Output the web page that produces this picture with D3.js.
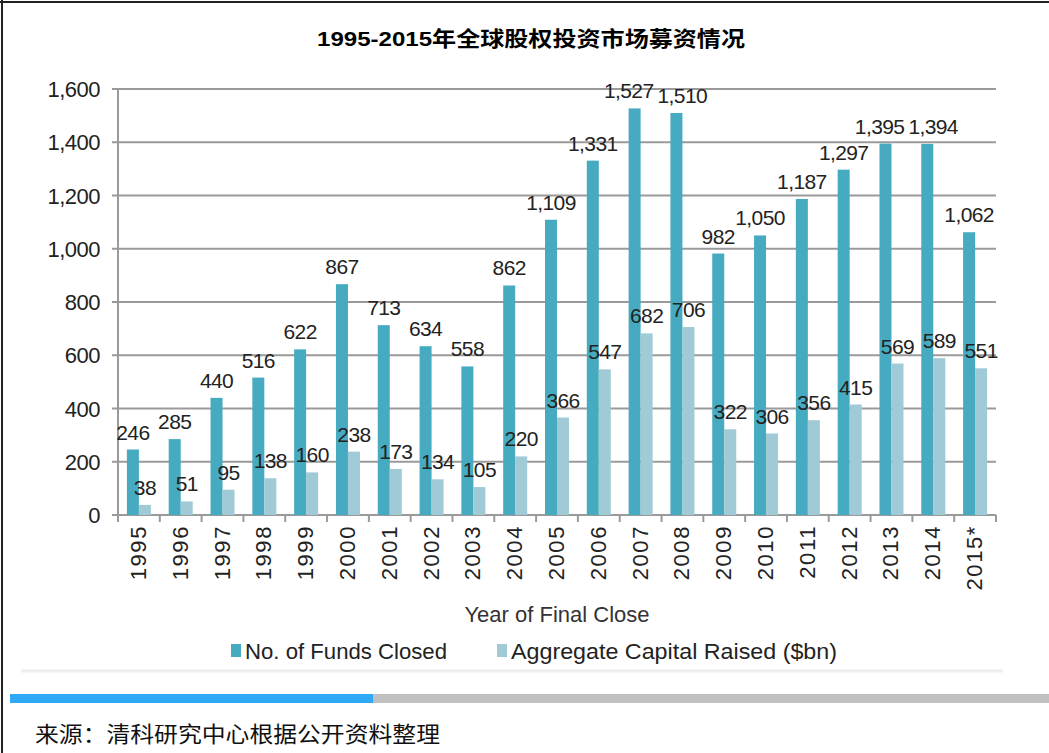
<!DOCTYPE html>
<html lang="zh">
<head>
  <meta charset="utf-8">
  <title>1995-2015年全球股权投资市场募资情况</title>
  <script src="https://d3js.org/d3.v7.min.js"></script>
  <style>
    body { margin: 0; padding: 0; background: #fff; }
    svg { display: block; }
    .num { font-family: "Liberation Sans", Arial, sans-serif; fill: #222; }
  </style>
</head>
<body>
  <svg id="chart" width="1049" height="753"></svg>
  <script>
    const years = ["1995", "1996", "1997", "1998", "1999", "2000", "2001", "2002", "2003", "2004", "2005",
                   "2006", "2007", "2008", "2009", "2010", "2011", "2012", "2013", "2014", "2015*"];
    const fundsClosed = [246, 285, 440, 516, 622, 867, 713, 634, 558, 862, 1109,
                         1331, 1527, 1510, 982, 1050, 1187, 1297, 1395, 1394, 1062];
    const capitalRaised = [38, 51, 95, 138, 160, 238, 173, 134, 105, 220, 366,
                           547, 682, 706, 322, 306, 356, 415, 569, 589, 551];
    const yTicks = [0, 200, 400, 600, 800, 1000, 1200, 1400, 1600];
    const seriesNames = ["No. of Funds Closed", "Aggregate Capital Raised ($bn)"];

    const W = 1049, H = 753;
    const plotLeft = 118, plotRight = 996, plotTop = 89, plotBottom = 515;
    const darkColor = "#46abc1", lightColor = "#9fcad6";

    const svg = d3.select("#chart");

    // page frame
    svg.append("line").attr("x1", 2).attr("x2", 2).attr("y1", 0).attr("y2", H)
      .attr("stroke", "#222").attr("stroke-width", 2);
    svg.append("line").attr("x1", 0).attr("x2", W).attr("y1", 2).attr("y2", 2)
      .attr("stroke", "#222").attr("stroke-width", 2);

    // title
    svg.append("text")
      .attr("x", 531).attr("y", 46)
      .attr("text-anchor", "middle")
      .attr("font-family", "'Liberation Sans', 'Noto Sans CJK SC', sans-serif")
      .attr("font-weight", "bold")
      .attr("font-size", 21)
      .attr("textLength", 428).attr("lengthAdjust", "spacingAndGlyphs")
      .text("1995-2015年全球股权投资市场募资情况");

    const x = d3.scaleBand().domain(years).range([plotLeft, plotRight]).padding(0);
    const y = d3.scaleLinear().domain([0, 1600]).range([plotBottom, plotTop]);
    const barW = 12;

    // gridlines
    svg.append("g")
      .selectAll("line")
      .data(yTicks)
      .join("line")
      .attr("x1", plotLeft - 6).attr("x2", plotRight)
      .attr("y1", d => y(d)).attr("y2", d => y(d))
      .attr("stroke", "#9a9a9a").attr("stroke-width", 2);

    // y labels
    svg.append("g")
      .selectAll("text")
      .data(yTicks)
      .join("text")
      .attr("class", "num")
      .attr("x", 100).attr("y", d => y(d) + 8)
      .attr("text-anchor", "end")
      .attr("font-size", 22)
      .attr("letter-spacing", -0.5)
      .text(d => d3.format(",")(d));

    // left axis line
    svg.append("line")
      .attr("x1", plotLeft).attr("x2", plotLeft).attr("y1", plotTop).attr("y2", plotBottom)
      .attr("stroke", "#9a9a9a").attr("stroke-width", 2);

    // bottom axis
    const xAxis = svg.append("g").attr("transform", `translate(0,${plotBottom})`);
    xAxis.append("line").attr("x1", plotLeft - 6).attr("x2", plotRight)
      .attr("stroke", "#9a9a9a").attr("stroke-width", 2);
    xAxis.selectAll("line.tick")
      .data(years.concat(["end"]))
      .join("line")
      .attr("class", "tick")
      .attr("x1", (d, i) => plotLeft + i * x.bandwidth())
      .attr("x2", (d, i) => plotLeft + i * x.bandwidth())
      .attr("y1", 0).attr("y2", 7)
      .attr("stroke", "#9a9a9a").attr("stroke-width", 2);
    xAxis.selectAll("text")
      .data(years)
      .join("text")
      .attr("class", "num")
      .attr("font-size", 22)
      .attr("letter-spacing", 1.6)
      .attr("text-anchor", "end")
      .attr("transform", d => `translate(${x(d) + x.bandwidth() / 2 + 7},10) rotate(-90)`)
      .text(d => d);

    // bars
    const bars = svg.append("g");
    bars.selectAll("rect.funds")
      .data(years)
      .join("rect")
      .attr("class", "funds")
      .attr("x", d => x(d) + x.bandwidth() / 2 - barW)
      .attr("width", barW)
      .attr("y", (d, i) => y(fundsClosed[i]))
      .attr("height", (d, i) => plotBottom - y(fundsClosed[i]))
      .attr("fill", darkColor);
    bars.selectAll("rect.capital")
      .data(years)
      .join("rect")
      .attr("class", "capital")
      .attr("x", d => x(d) + x.bandwidth() / 2)
      .attr("width", barW)
      .attr("y", (d, i) => y(capitalRaised[i]))
      .attr("height", (d, i) => plotBottom - y(capitalRaised[i]))
      .attr("fill", lightColor);

    // value labels
    const labels = svg.append("g");
    const fundLabels = labels.selectAll("text.funds")
      .data(years)
      .join("text")
      .attr("class", "num funds")
      .attr("font-size", 21)
      .attr("letter-spacing", -0.6)
      .attr("text-anchor", "middle")
      .attr("x", d => x(d) + x.bandwidth() / 2 - barW / 2)
      .attr("y", (d, i) => y(fundsClosed[i]) - 10)
      .text((d, i) => d3.format(",")(fundsClosed[i]));
    labels.selectAll("text.capital")
      .data(years)
      .join("text")
      .attr("class", "num capital")
      .attr("font-size", 21)
      .attr("letter-spacing", -0.6)
      .attr("text-anchor", "middle")
      .attr("x", d => x(d) + x.bandwidth() / 2 + barW / 2)
      .attr("y", (d, i) => y(capitalRaised[i]) - 10)
      .text((d, i) => d3.format(",")(capitalRaised[i]));

    // push apart neighbouring labels that sit at about the same height
    const nodes = fundLabels.nodes();
    for (let i = 1; i < nodes.length; i++) {
      const a = nodes[i - 1], b = nodes[i];
      const ya = +a.getAttribute("y"), yb = +b.getAttribute("y");
      if (Math.abs(ya - yb) > 18) continue;
      const xa = +a.getAttribute("x"), xb = +b.getAttribute("x");
      const need = (a.getComputedTextLength() + b.getComputedTextLength()) / 2 + 4;
      const gap = xb - xa;
      if (gap < need) {
        const shift = (need - gap) / 2;
        a.setAttribute("x", xa - shift);
        b.setAttribute("x", xb + shift);
      }
    }

    // axis title
    svg.append("text")
      .attr("x", 557).attr("y", 622)
      .attr("text-anchor", "middle")
      .attr("font-family", "'Liberation Sans', Arial, sans-serif")
      .attr("font-size", 22)
      .attr("fill", "#333")
      .text("Year of Final Close");

    // legend
    const legend = svg.append("g");
    const legendX = [231, 497];
    const legendLen = [202, 326];
    const legendColors = [darkColor, lightColor];
    seriesNames.forEach((name, i) => {
      legend.append("rect")
        .attr("x", legendX[i]).attr("y", 644).attr("width", 10).attr("height", 13)
        .attr("fill", legendColors[i]);
      legend.append("text")
        .attr("x", legendX[i] + 14).attr("y", 659)
        .attr("font-family", "'Liberation Sans', Arial, sans-serif")
        .attr("font-size", 22)
        .attr("fill", "#222")
        .attr("textLength", legendLen[i]).attr("lengthAdjust", "spacingAndGlyphs")
        .text(name);
    });

    // chart box bottom edge
    svg.append("line").attr("x1", 21).attr("x2", 1003).attr("y1", 671).attr("y2", 671)
      .attr("stroke", "#eeeeee").attr("stroke-width", 3);

    // separator bar
    svg.append("rect").attr("x", 10).attr("y", 694).attr("width", 363).attr("height", 9).attr("fill", "#2fa8f6");
    svg.append("rect").attr("x", 373).attr("y", 694).attr("width", W - 373).attr("height", 9).attr("fill", "#c0c0c0");

    // source
    svg.append("text")
      .attr("x", 35).attr("y", 742)
      .attr("font-family", "'Noto Sans CJK SC', sans-serif")
      .attr("font-size", 22)
      .attr("fill", "#111")
      .attr("textLength", 405).attr("lengthAdjust", "spacingAndGlyphs")
      .text("来源：清科研究中心根据公开资料整理");
  </script>
</body>
</html>
